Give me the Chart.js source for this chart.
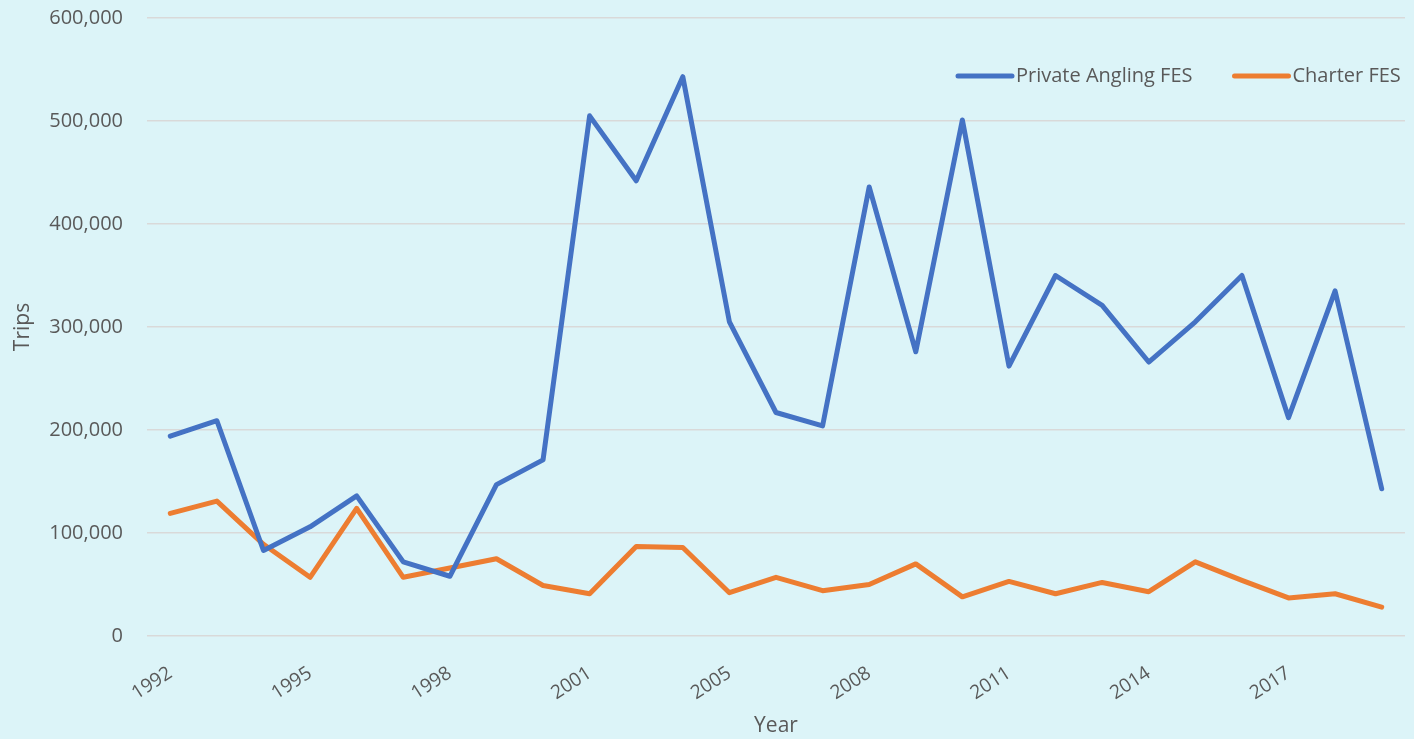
<!DOCTYPE html>
<html>
<head>
<meta charset="utf-8">
<script src="https://cdn.jsdelivr.net/npm/chart.js@4/dist/chart.umd.min.js"></script>
<style>
html, body { margin: 0; padding: 0; background: #dcf4f8; }
#wrap { width: 1414px; height: 739px; position: relative; }
</style>
</head>
<body>
<div id="wrap"><canvas id="chart"></canvas></div>
<script>
// years on the category axis (no 2002 in the source series)
var years = ['1992','1993','1994','1995','1996','1997','1998','1999','2000','2001',
             '2003','2004','2005','2006','2007','2008','2009','2010','2011','2012',
             '2013','2014','2015','2016','2017','2018','2019'];
var privateAngling = [194000,209000,83000,106000,136000,72000,58000,147000,171000,505000,
                      442000,543000,305000,217000,204000,436000,276000,501000,262000,350000,
                      321000,266000,305000,350000,212000,335000,143000];
var charter = [119000,131000,89000,57000,124000,57000,66000,75000,49000,41000,
               87000,86000,42000,57000,44000,50000,70000,38000,53000,41000,
               52000,43000,72000,54000,37000,41000,28000];
var seriesNames = ['Private Angling FES', 'Charter FES'];
var seriesColors = ['#4472c4', '#ed7d31'];

var textColor = '#595959';
var fontFamily = '"Open Sans", "DejaVu Sans", sans-serif';

// legend drawn inside the plot, top right
var insideLegend = {
  id: 'insideLegend',
  afterDraw: function(chart) {
    var ctx = chart.ctx;
    var y = 76;
    var x = 958;
    ctx.save();
    ctx.font = '20px ' + fontFamily;
    ctx.textBaseline = 'middle';
    chart.data.datasets.forEach(function(ds) {
      ctx.strokeStyle = ds.borderColor;
      ctx.lineWidth = 5;
      ctx.lineCap = 'round';
      ctx.beginPath();
      ctx.moveTo(x, y);
      ctx.lineTo(x + 54, y);
      ctx.stroke();
      ctx.fillStyle = textColor;
      ctx.fillText(ds.label, x + 58, y);
      x += 58 + ctx.measureText(ds.label).width + 42;
    });
    ctx.restore();
  }
};

var ctx = document.getElementById('chart');
new Chart(ctx, {
  type: 'line',
  data: {
    labels: years,
    datasets: [
      {
        label: seriesNames[0],
        data: privateAngling,
        borderColor: seriesColors[0],
        backgroundColor: seriesColors[0],
        borderWidth: 5,
        pointRadius: 0,
        borderCapStyle: 'round',
        borderJoinStyle: 'round',
        tension: 0,
        fill: false
      },
      {
        label: seriesNames[1],
        data: charter,
        borderColor: seriesColors[1],
        backgroundColor: seriesColors[1],
        borderWidth: 5,
        pointRadius: 0,
        borderCapStyle: 'round',
        borderJoinStyle: 'round',
        tension: 0,
        fill: false
      }
    ]
  },
  options: {
    responsive: true,
    maintainAspectRatio: false,
    animation: false,
    layout: { padding: { top: 18, right: 9, left: 0, bottom: 0 } },
    plugins: {
      legend: { display: false },
      tooltip: { enabled: false }
    },
    scales: {
      x: {
        offset: true,
        grid: { display: false },
        border: { display: false },
        ticks: {
          color: textColor,
          font: { family: fontFamily, size: 19 },
          autoSkip: false,
          minRotation: 33,
          maxRotation: 33,
          padding: 18,
          callback: function(val, i) { return i % 3 === 0 ? this.getLabelForValue(val) : ''; }
        },
        title: {
          display: true,
          text: 'Year',
          color: textColor,
          font: { family: fontFamily, size: 21 },
          padding: { top: 0, bottom: 0 }
        },
        afterFit: function(scale) {
          scale.height = 103;
          scale.paddingLeft = 0;
          scale.paddingRight = 0;
        }
      },
      y: {
        min: 0,
        max: 600000,
        grid: { color: '#d9d9d9', lineWidth: 1.5, drawTicks: false },
        border: { display: false },
        ticks: {
          stepSize: 100000,
          color: textColor,
          font: { family: fontFamily, size: 20 },
          padding: 24,
          callback: function(v) { return v.toLocaleString('en-US'); }
        },
        title: {
          display: true,
          text: 'Trips',
          color: textColor,
          font: { family: fontFamily, size: 21 },
          padding: { top: 10, bottom: 0 }
        },
        afterFit: function(scale) {
          scale.width = 147;
          scale.paddingTop = 0;
          scale.paddingBottom = 0;
        }
      }
    }
  },
  plugins: [insideLegend]
});
</script>
</body>
</html>
